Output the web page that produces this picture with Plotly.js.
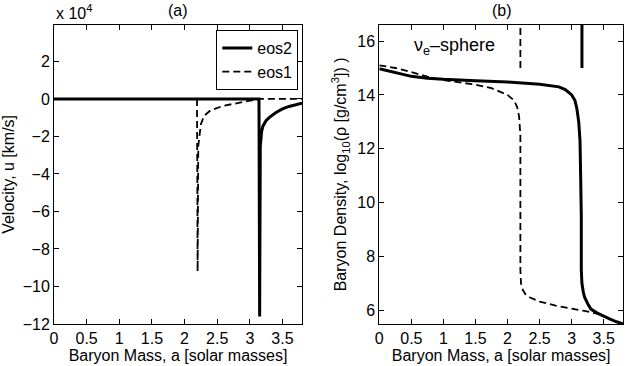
<!DOCTYPE html>
<html>
<head>
<meta charset="utf-8">
<script src="https://cdn.plot.ly/plotly-3.0.1.min.js"></script>
<style>
  body { margin: 0; padding: 0; background: #fff; }
  #myDiv { width: 628px; height: 366px; }
</style>
</head>
<body>
<div id="myDiv"></div>
<script>
// (a) velocity, in units of 1e4 km/s
var velMassEos2 = [0, 3.0, 3.1, 3.14, 3.15, 3.16, 3.18, 3.2, 3.25, 3.3, 3.4, 3.5, 3.6, 3.7, 3.8];
var velEos2 = [0, 0, -0.03, 0, -11.6, -2.5, -1.75, -1.45, -1.15, -0.98, -0.72, -0.53, -0.4, -0.3, -0.23];
var velMassEos1 = [0, 2.19, 2.195, 2.2, 2.21, 2.25, 2.3, 2.4, 2.6, 2.8, 3.0, 3.1, 3.15, 3.3, 3.5, 3.8];
var velEos1 = [0, 0, -4, -9.2, -2.5, -1.35, -0.9, -0.6, -0.36, -0.22, -0.12, -0.05, 0, 0, 0, 0];

// (b) log10 density
var denMassEos2 = [0, 0.25, 0.5, 0.75, 1.0, 1.5, 2.0, 2.5, 2.8, 2.9, 3.0, 3.05, 3.08, 3.11, 3.13, 3.14, 3.15, 3.15, 3.16, 3.18, 3.2, 3.25, 3.3, 3.4, 3.5, 3.6, 3.7, 3.8];
var denEos2 = [14.97, 14.83, 14.69, 14.62, 14.58, 14.53, 14.48, 14.4, 14.3, 14.2, 14.0, 13.8, 13.5, 13.0, 12.3, 11.0, 9.5, 7.5, 7.0, 6.7, 6.5, 6.25, 6.05, 5.9, 5.78, 5.68, 5.58, 5.5];
var denMassEos1 = [0, 0.25, 0.5, 0.75, 1.0, 1.25, 1.5, 1.75, 2.0, 2.1, 2.15, 2.18, 2.2, 2.2, 2.21, 2.24, 2.28, 2.35, 2.5, 2.75, 3.0, 3.2, 3.4];
var denEos1 = [15.1, 15.0, 14.85, 14.68, 14.55, 14.47, 14.38, 14.25, 14.0, 13.8, 13.55, 13.2, 12.5, 7.5, 7.0, 6.75, 6.6, 6.48, 6.33, 6.18, 6.08, 5.98, 5.88];

// nu_e-sphere marks
var sphereMass = [2.2, 3.16];
var sphereLow = 15;
var sphereHigh = 16.6;

var axisFont = {family: 'Liberation Sans, Arial, sans-serif', size: 16, color: '#000'};
var solidLine = {color: '#000', width: 3};
var dashLine = {color: '#000', width: 1.8, dash: '7px,4px'};

var data = [
  {x: velMassEos2, y: velEos2, mode: 'lines', name: 'eos2', line: solidLine, xaxis: 'x', yaxis: 'y'},
  {x: velMassEos1, y: velEos1, mode: 'lines', name: 'eos1', line: dashLine, xaxis: 'x', yaxis: 'y'},
  {x: denMassEos2, y: denEos2, mode: 'lines', showlegend: false, line: solidLine, xaxis: 'x2', yaxis: 'y2'},
  {x: denMassEos1, y: denEos1, mode: 'lines', showlegend: false, line: dashLine, xaxis: 'x2', yaxis: 'y2'},
  {x: [sphereMass[0], sphereMass[0]], y: [sphereLow, sphereHigh], mode: 'lines', showlegend: false, line: dashLine, xaxis: 'x2', yaxis: 'y2'},
  {x: [sphereMass[1], sphereMass[1]], y: [sphereLow, sphereHigh], mode: 'lines', showlegend: false, line: solidLine, xaxis: 'x2', yaxis: 'y2'}
];

function xAxis(dom, anchor) {
  return {
    domain: dom, anchor: anchor, range: [0, 3.8],
    tickvals: [0, 0.5, 1, 1.5, 2, 2.5, 3, 3.5],
    ticks: 'inside', ticklen: 5, tickcolor: '#000', mirror: 'ticks',
    showline: true, linecolor: '#000', linewidth: 1,
    showgrid: false, zeroline: false, tickfont: axisFont,
    title: {text: 'Baryon Mass, a [solar masses]', font: axisFont, standoff: 2}
  };
}

var layout = {
  width: 628, height: 366,
  margin: {l: 0, r: 0, t: 0, b: 0},
  paper_bgcolor: '#fff', plot_bgcolor: '#fff',
  font: axisFont,
  xaxis: xAxis([0.086, 0.481], 'y'),
  xaxis2: xAxis([0.604, 0.992], 'y2'),
  yaxis: {
    domain: [0.115, 0.932], anchor: 'x', range: [-12, 3.95],
    tickvals: [-12, -10, -8, -6, -4, -2, 0, 2],
    ticks: 'inside', ticklen: 5, tickcolor: '#000', mirror: 'ticks',
    showline: true, linecolor: '#000', linewidth: 1,
    showgrid: false, zeroline: false, tickfont: axisFont,
    title: {text: 'Velocity, u [km/s]', font: axisFont, standoff: 4}
  },
  yaxis2: {
    domain: [0.115, 0.932], anchor: 'x2', range: [5.5, 16.6],
    tickvals: [6, 8, 10, 12, 14, 16],
    ticks: 'inside', ticklen: 5, tickcolor: '#000', mirror: 'ticks',
    showline: true, linecolor: '#000', linewidth: 1,
    showgrid: false, zeroline: false, tickfont: axisFont,
    title: {text: 'Baryon Density, log<sub>10</sub>(ρ [g/cm<sup>3</sup>]) )', font: axisFont, standoff: 6}
  },
  showlegend: true,
  legend: {
    x: 0.475, y: 0.918, xanchor: 'right', yanchor: 'top',
    bgcolor: '#fff', bordercolor: '#000', borderwidth: 1,
    font: axisFont, tracegroupgap: 0
  },
  annotations: [
    {text: '(a)', x: 0.283, y: 1, xref: 'paper', yref: 'paper', xanchor: 'center', yanchor: 'top', showarrow: false, font: axisFont},
    {text: '(b)', x: 0.80, y: 1, xref: 'paper', yref: 'paper', xanchor: 'center', yanchor: 'top', showarrow: false, font: axisFont},
    {text: 'x 10<sup>4</sup>', x: 0.086, y: 0.935, xref: 'paper', yref: 'paper', xanchor: 'left', yanchor: 'bottom', showarrow: false, font: axisFont},
    {text: 'ν<sub>e</sub>–sphere', x: 1.18, y: 15.8, xref: 'x2', yref: 'y2', xanchor: 'center', yanchor: 'middle', showarrow: false, font: {family: 'Liberation Sans, Arial, sans-serif', size: 18, color: '#000'}}
  ]
};

Plotly.newPlot('myDiv', data, layout, {displayModeBar: false, staticPlot: true});
</script>
</body>
</html>
